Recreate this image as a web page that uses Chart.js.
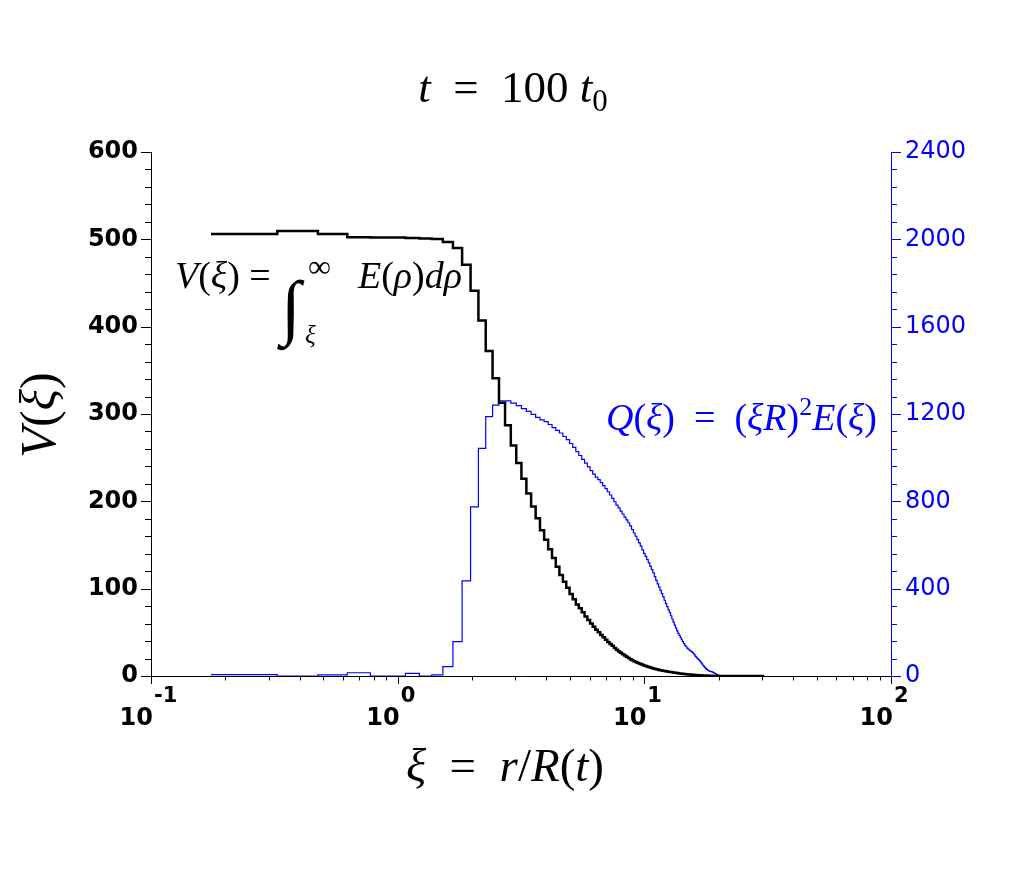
<!DOCTYPE html>
<html>
<head>
<meta charset="utf-8">
<script src="https://cdn.jsdelivr.net/npm/chart.js@4.4.1/dist/chart.umd.min.js"></script>
<style>
  body { margin: 0; background: #fff; }
  #wrap { width: 1018px; height: 870px; }
</style>
</head>
<body>
<div id="wrap"><canvas id="myChart" width="1018" height="870"></canvas></div>
<script>
// histogram bins in xi (linear width)
var binStart = 0.175;
var binWidth = 0.15;
var xiEnd = 30.625;

// V(xi), left axis
var vValues = [
  506, 509.5, 506, 502.5, 502, 502, 501.5, 501, 500.5, 497,
  490, 471, 441, 407, 372, 341, 313, 287, 264, 244,
  226, 209, 194, 180.6, 167, 156, 145, 135, 125, 115.6,
  108, 101, 94, 88, 82, 77.5, 73, 68, 64, 60,
  56.5, 53, 50, 47, 44.5, 41.5, 39, 36.5, 34.5, 32,
  30, 28, 26.5, 25, 23.5, 22, 20.5, 19.3, 18, 17,
  16, 15.2, 14.4, 13.6, 12.8, 12, 11.4, 10.8, 10.2, 9.7,
  9.2, 8.7, 8.2, 7.8, 7.4, 7.0, 6.6, 6.3, 6.0, 5.7,
  5.4, 5.1, 4.9, 4.7, 4.5, 4.2, 4.0, 3.8, 3.6, 3.4,
  3.2, 3.0, 2.8, 2.6, 2.5, 2.3, 2.2, 2.0, 1.9, 1.8,
  1.7, 1.6, 1.5, 1.4, 1.3, 1.2, 1.1, 1.1, 1.0, 1.0,
  0.9, 0.8, 0.8, 0.7, 0.7, 0.6, 0.6, 0.5, 0.5, 0.5,
  0.4, 0.4, 0.4, 0.3, 0.3, 0.3, 0.3, 0.2, 0.2, 0.2, 0.2, 0.2, 0.1
];

// Q(xi) = (xi R)^2 E(xi), right axis
var qValues = [
  6, 0, 5, 15, 0, 0, 12, 0, 5, 43,
  157, 436, 775, 1043, 1188, 1241, 1260, 1260, 1250, 1238,
  1225, 1212, 1198, 1185, 1173, 1165, 1152, 1138, 1125, 1113,
  1097, 1083, 1065, 1047, 1028, 1010, 992, 975, 958, 941,
  925, 911, 899, 886, 872, 858, 844, 829, 814, 798,
  783, 770, 755, 742, 728, 715, 702, 688, 671, 655,
  640, 625, 610, 595, 578, 562, 548, 533, 518, 502,
  487, 472, 455, 438, 422, 407, 392, 377, 362, 347,
  333, 318, 303, 290, 276, 261, 247, 233, 220, 207,
  195, 186, 176, 166, 157, 148, 140, 134, 128, 123,
  119, 115, 112, 108, 103, 97, 90, 85, 80, 76,
  72, 66, 60, 54, 48, 43, 38, 34, 30, 27,
  24, 22, 21, 20, 19, 17, 15, 13, 11, 8, 5, 3, 1
];

var xDecades = [-1, 0, 1, 2];
var yLeftMax = 600, yLeftStep = 100, yLeftMinor = 20;
var yRightMax = 2400, yRightStep = 400, yRightMinor = 80;

var blue = '#0000ff';
var serif = '"Liberation Serif", "DejaVu Serif", serif';
var sans = '"DejaVu Sans", sans-serif';

// points at left bin edges; 'before' keeps each value until the next edge
function toSteps(values) {
  var pts = [];
  for (var i = 0; i < values.length; i++) {
    pts.push({x: binStart + i * binWidth, y: values[i]});
  }
  pts.push({x: binStart + values.length * binWidth, y: 0});
  pts.push({x: xiEnd, y: 0});
  return pts;
}

// text made of runs [text, font, dy]
function drawRuns(ctx, runs, x, y, align) {
  var total = 0;
  runs.forEach(function (r) { ctx.font = r[1]; total += ctx.measureText(r[0]).width; });
  var cx = x;
  if (align === 'center') cx = x - total / 2;
  if (align === 'right') cx = x - total;
  ctx.textAlign = 'left';
  ctx.textBaseline = 'alphabetic';
  runs.forEach(function (r) {
    ctx.font = r[1];
    ctx.fillText(r[0], cx, y + (r[2] || 0));
    cx += ctx.measureText(r[0]).width;
  });
}

var decor = {
  id: 'decor',
  afterDraw: function (chart) {
    var ctx = chart.ctx;
    var a = chart.chartArea;
    var sx = chart.scales.x, sy = chart.scales.y, sy2 = chart.scales.y2;
    ctx.save();
    ctx.lineWidth = 1;

    // left ticks
    ctx.strokeStyle = '#000';
    ctx.beginPath();
    for (var v = 0; v <= yLeftMax; v += yLeftMinor) {
      var py = Math.round(sy.getPixelForValue(v)) + 0.5;
      var len = (v % yLeftStep === 0) ? 10 : 6;
      ctx.moveTo(a.left, py); ctx.lineTo(a.left - len, py);
    }
    ctx.stroke();

    // right ticks
    ctx.strokeStyle = blue;
    ctx.beginPath();
    for (var w = 0; w <= yRightMax; w += yRightMinor) {
      var py2 = Math.round(sy2.getPixelForValue(w)) + 0.5;
      var len2 = (w % yRightStep === 0) ? 10 : 6;
      ctx.moveTo(a.right, py2); ctx.lineTo(a.right + len2, py2);
    }
    ctx.stroke();

    // x ticks (decades + 2..9)
    ctx.strokeStyle = '#000';
    ctx.beginPath();
    xDecades.forEach(function (d) {
      var px = Math.round(sx.getPixelForValue(Math.pow(10, d))) + 0.5;
      ctx.moveTo(px, a.bottom); ctx.lineTo(px, a.bottom + 8);
      if (d < 2) {
        for (var m = 2; m <= 9; m++) {
          var pm = Math.round(sx.getPixelForValue(m * Math.pow(10, d))) + 0.5;
          ctx.moveTo(pm, a.bottom); ctx.lineTo(pm, a.bottom + 4.5);
        }
      }
    });
    ctx.stroke();

    // x tick labels 10^d
    ctx.fillStyle = '#000';
    xDecades.forEach(function (d) {
      var px = sx.getPixelForValue(Math.pow(10, d));
      ctx.font = 'bold 24px ' + sans;
      ctx.textAlign = 'right';
      ctx.textBaseline = 'alphabetic';
      ctx.fillText('10', px + 2, 725);
      ctx.font = 'bold 21px ' + sans;
      ctx.textAlign = 'left';
      ctx.fillText(d < 0 ? '-' + (-d) : String(d), px + 3, 702);
    });

    // title
    var it = 'italic 45px ' + serif, rm = '45px ' + serif;
    drawRuns(ctx, [['t', it], ['  =  ', rm], ['100', rm], [' ', rm], ['t', it], ['0', '31px ' + serif, 9]], 513, 102, 'center');

    // x title
    var xi = 'italic 47px ' + serif, xr = '47px ' + serif;
    drawRuns(ctx, [['ξ', xi], ['  =  ', xr], ['r', xi], ['/', xr], ['R', xi], ['(', xr], ['t', xi], [')', xr]], 505, 781, 'center');

    // y title
    ctx.save();
    ctx.translate(55, 415);
    ctx.rotate(-Math.PI / 2);
    var yi = 'italic 50px ' + serif, yr = '50px ' + serif;
    drawRuns(ctx, [['V', yi], ['(', yr], ['ξ', yi], [')', yr]], 0, 0, 'center');
    ctx.restore();

    // V annotation
    var ai = 'italic 38px ' + serif, ar = '38px ' + serif;
    drawRuns(ctx, [['V', ai], ['(', ar], ['ξ', ai], [')', ar], [' =', ar]], 175, 288, 'left');
    ctx.font = 'italic 72px ' + serif;
    ctx.fillText('∫', 281, 331);
    ctx.font = '32px ' + serif;
    ctx.fillText('∞', 308, 277);
    ctx.font = 'italic 25px ' + serif;
    ctx.fillText('ξ', 305, 343);
    drawRuns(ctx, [['E', ai], ['(', ar], ['ρ', ai], [')', ar], ['d', ai], ['ρ', ai]], 358, 288, 'left');

    // Q annotation
    ctx.fillStyle = blue;
    var bi = 'italic 38px ' + serif, br = '38px ' + serif;
    drawRuns(ctx, [['Q', bi], ['(', br], ['ξ', bi], [')', br], ['  =  ', br], ['(', br], ['ξ', bi], ['R', bi], [')', br],
      ['2', '26px ' + serif, -15], ['E', bi], ['(', br], ['ξ', bi], [')', br]], 877, 430, 'right');

    ctx.restore();
  }
};

var ctx = document.getElementById('myChart').getContext('2d');
var myChart = new Chart(ctx, {
  type: 'line',
  data: {
    datasets: [
      {
        label: 'V',
        data: toSteps(vValues),
        yAxisID: 'y',
        borderColor: '#000',
        borderWidth: 2.5,
        stepped: 'before',
        pointRadius: 0,
        fill: false
      },
      {
        label: 'Q',
        data: toSteps(qValues),
        yAxisID: 'y2',
        borderColor: blue,
        borderWidth: 1.2,
        stepped: 'before',
        pointRadius: 0,
        fill: false
      }
    ]
  },
  options: {
    responsive: false,
    animation: false,
    devicePixelRatio: 1,
    layout: { padding: { top: 152, left: 0, right: 0, bottom: 0 } },
    plugins: {
      legend: { display: false },
      title: { display: false },
      tooltip: { enabled: false }
    },
    scales: {
      x: {
        type: 'logarithmic',
        min: 0.1,
        max: 100,
        grid: { display: false },
        border: { color: '#000', width: 1 },
        ticks: { display: false },
        afterFit: function (s) { s.height = 194; }
      },
      y: {
        position: 'left',
        min: 0,
        max: yLeftMax,
        grid: { display: false },
        border: { color: '#000', width: 1 },
        ticks: {
          stepSize: yLeftStep,
          color: '#000',
          padding: 5,
          font: { family: sans, size: 24, weight: 'bold' },
          callback: function (v) { return String(v); }
        },
        afterFit: function (s) { s.width = 151; }
      },
      y2: {
        position: 'right',
        min: 0,
        max: yRightMax,
        grid: { display: false },
        border: { color: blue, width: 1 },
        ticks: {
          stepSize: yRightStep,
          color: blue,
          padding: 6,
          font: { family: sans, size: 24 },
          callback: function (v) { return String(v); }
        },
        afterFit: function (s) { s.width = 127; }
      }
    }
  },
  plugins: [decor]
});
</script>
</body>
</html>
